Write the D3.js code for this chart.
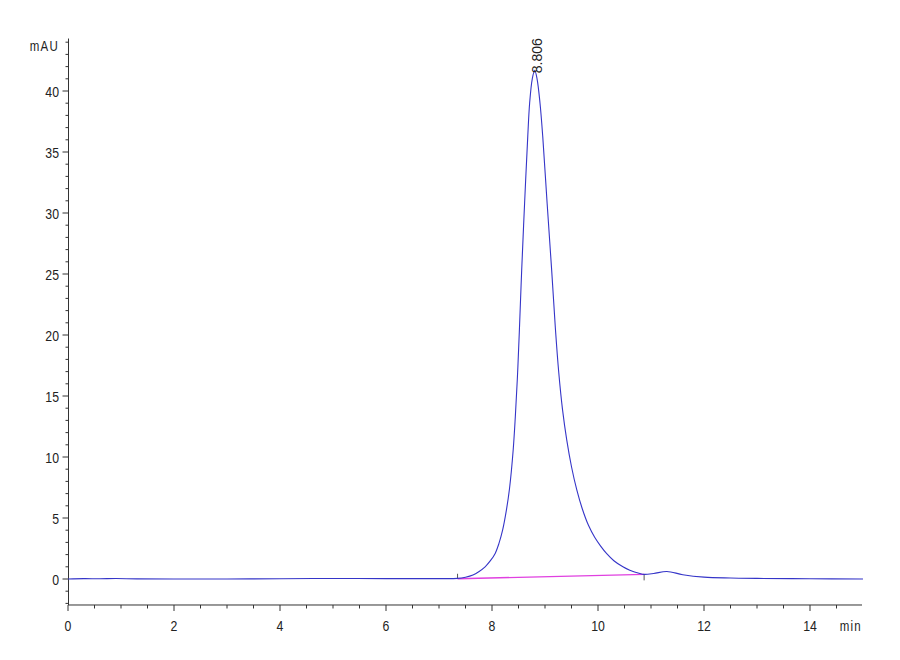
<!DOCTYPE html>
<html><head><meta charset="utf-8">
<script src="https://cdn.jsdelivr.net/npm/d3@7"></script>
<style>body{margin:0;background:#fff}svg{display:block}text{font-family:"Liberation Sans",Arial,sans-serif;fill:#222}</style>
</head><body>
<svg id="c" width="900" height="660"></svg>
<script>
// retention time (min) and absorbance (mAU)
const times  = [0,0.3,0.6,0.9,1.3,2,3,4,5,6,7,7.35,7.5,7.64,7.75,7.87,7.97,8.06,8.13,8.2,8.27,8.33,8.4,8.44,8.48,8.515,8.56,8.615,8.675,8.71,8.76,8.806,8.85,8.906,8.957,9.04,9.126,9.195,9.26,9.33,9.41,9.5,9.6,9.7,9.82,9.94,10.05,10.16,10.3,10.47,10.6,10.79,10.87,11.05,11.3,11.6,12,12.5,13,14,15];
const signal = [0,0.03,0.02,0.04,0.01,0,0,0.02,0.04,0.03,0.03,0.05,0.15,0.33,0.6,1.0,1.5,2.1,2.9,4.0,5.6,7.4,10.6,13.3,16.6,20.2,25.3,30.8,36.3,39.0,41.0,41.7,41.0,39.0,36.3,30.8,25.3,20.6,16.9,13.9,11.4,9.2,7.3,5.8,4.4,3.4,2.7,2.1,1.5,1.0,0.72,0.45,0.38,0.45,0.62,0.35,0.15,0.08,0.05,0.02,0];
const baselineT = [7.35,10.87];
const baselineV = [0.02,0.38];
const peakLabel = "8.806", peakTime = 8.806, peakValue = 41.7;
const xMajor = [0,2,4,6,8,10,12,14];
const yMajor = [0,5,10,15,20,25,30,35,40];

const svg = d3.select("#c");
const x = d3.scaleLinear().domain([0,15]).range([68,863]);
const y = d3.scaleLinear().domain([0,40]).range([579,91]);
const axisColor = "#333";
const xAxisY = y(-2.13), yTop = y(44.3);

function label(px, py, txt, anchor, size, extra) {
  return svg.append("text")
    .attr("transform", `translate(${px},${py}) ${extra||""} scale(0.82,1)`)
    .attr("text-anchor", anchor).attr("font-size", size).text(txt);
}

// y axis
svg.append("line").attr("x1",68.5).attr("x2",68.5).attr("y1",yTop).attr("y2",xAxisY).attr("stroke",axisColor);
d3.range(-2,45,1).forEach(v=>{
  const major = v%5===0;
  svg.append("line").attr("x1",68.5).attr("x2",68.5-(major?6:3)).attr("y1",y(v)).attr("y2",y(v)).attr("stroke",axisColor);
});
yMajor.forEach(v=>label(59, y(v)+5.5, v, "end", 15));
label(59, 51, "mAU", "end", 14).attr("letter-spacing",1.5);

// x axis
svg.append("line").attr("x1",68).attr("x2",862).attr("y1",xAxisY).attr("y2",xAxisY).attr("stroke",axisColor);
d3.range(0,15,0.5).forEach(v=>{
  const major = v%2===0;
  svg.append("line").attr("x1",x(v)).attr("x2",x(v)).attr("y1",xAxisY).attr("y2",xAxisY+(major?6:3.5)).attr("stroke",axisColor);
});
xMajor.forEach(v=>label(x(v), 631, v, "middle", 15));
label(862, 631, "min", "end", 14).attr("letter-spacing",1.5);

// baseline
svg.append("line").attr("x1",x(baselineT[0])).attr("x2",x(baselineT[1])).attr("y1",y(baselineV[0])).attr("y2",y(baselineV[1]))
  .attr("stroke","#e040e0").attr("stroke-width",1.3);
svg.append("line").attr("x1",x(baselineT[0])).attr("x2",x(baselineT[0])).attr("y1",y(baselineV[0])).attr("y2",y(baselineV[0])-5).attr("stroke","#555");
svg.append("line").attr("x1",x(baselineT[1])).attr("x2",x(baselineT[1])).attr("y1",y(baselineV[1])).attr("y2",y(baselineV[1])+6).attr("stroke","#555");

// signal
const data = times.map((t,i)=>[t,signal[i]]);
svg.append("path").datum(data)
  .attr("d",d3.line().x(d=>x(d[0])).y(d=>y(d[1])).curve(d3.curveCatmullRom.alpha(0.5)))
  .attr("fill","none").attr("stroke","#3535c8").attr("stroke-width",1.1);

// peak label
svg.append("text").attr("transform",`translate(${x(peakTime)+7.5},${y(peakValue)+3}) rotate(-90)`)
  .attr("font-size",14).attr("text-anchor","start").text(peakLabel);
</script>
</body></html>
